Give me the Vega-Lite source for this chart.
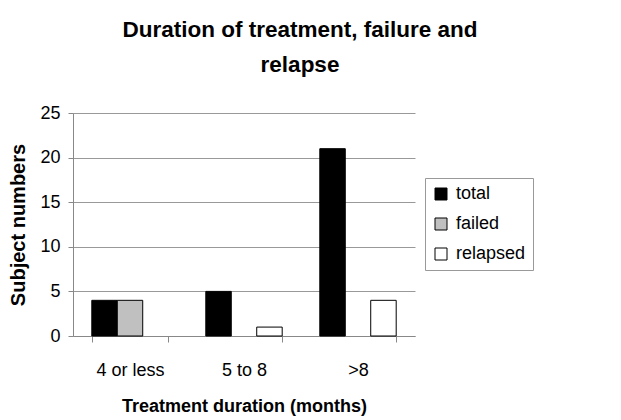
{
  "$schema": "https://vega.github.io/schema/vega-lite/v6.json",
  "autosize": {"type": "none"},
  "width": 342,
  "height": 223,
  "padding": {"left": 73, "top": 113, "right": 206, "bottom": 84},
  "background": "white",
  "title": {
    "text": ["Duration of treatment, failure and", "relapse"],
    "font": "Liberation Sans",
    "fontSize": 22.5,
    "fontWeight": "bold",
    "color": "black",
    "anchor": "middle",
    "dx": 56,
    "offset": 28,
    "lineHeight": 35
  },
  "data": {
    "values": [
      {"duration": "4 or less", "series": "total", "n": 4},
      {"duration": "4 or less", "series": "failed", "n": 4},
      {"duration": "5 to 8", "series": "total", "n": 5},
      {"duration": "5 to 8", "series": "relapsed", "n": 1},
      {"duration": ">8", "series": "total", "n": 21},
      {"duration": ">8", "series": "relapsed", "n": 4}
    ]
  },
  "mark": {"type": "bar", "stroke": "black", "strokeWidth": 1},
  "encoding": {
    "x": {
      "field": "duration",
      "type": "nominal",
      "sort": ["4 or less", "5 to 8", ">8"],
      "scale": {"paddingInner": 0.33, "paddingOuter": 0.165},
      "axis": {
        "title": "Treatment duration (months)",
        "labelAngle": 0,
        "labelFont": "Liberation Sans",
        "labelFontSize": 18,
        "labelColor": "black",
        "labelPadding": 19,
        "titleFont": "Liberation Sans",
        "titleFontSize": 18,
        "titleFontWeight": "bold",
        "titleColor": "black",
        "titlePadding": 18,
        "tickBand": "extent",
        "tickColor": "#888",
        "tickSize": 6,
        "domainColor": "#888",
        "grid": false
      }
    },
    "xOffset": {
      "field": "series",
      "type": "nominal",
      "scale": {"domain": ["total", "failed", "relapsed"], "paddingInner": 0, "paddingOuter": 0}
    },
    "y": {
      "field": "n",
      "type": "quantitative",
      "scale": {"domain": [0, 25], "nice": false},
      "axis": {
        "title": "Subject numbers",
        "values": [0, 5, 10, 15, 20, 25],
        "labelFont": "Liberation Sans",
        "labelFontSize": 18,
        "labelColor": "black",
        "labelPadding": 8,
        "titleFont": "Liberation Sans",
        "titleFontSize": 20,
        "titleFontWeight": "bold",
        "titleColor": "black",
        "titlePadding": 11,
        "tickColor": "#888",
        "tickSize": 5,
        "domainColor": "#888",
        "grid": true,
        "gridColor": "#999",
        "gridWidth": 1
      }
    },
    "fill": {
      "field": "series",
      "type": "nominal",
      "scale": {"domain": ["total", "failed", "relapsed"], "range": ["black", "#c0c0c0", "white"]},
      "legend": {
        "title": null,
        "orient": "none",
        "legendX": 352,
        "legendY": 65,
        "symbolType": "square",
        "symbolSize": 144,
        "symbolStrokeColor": "black",
        "symbolStrokeWidth": 1,
        "labelFont": "Liberation Sans",
        "labelFontSize": 18,
        "labelColor": "black",
        "labelOffset": 6,
        "rowPadding": 12,
        "padding": 7,
        "strokeColor": "#999",
        "fillColor": "white"
      }
    }
  },
  "config": {"view": {"stroke": null}}
}
